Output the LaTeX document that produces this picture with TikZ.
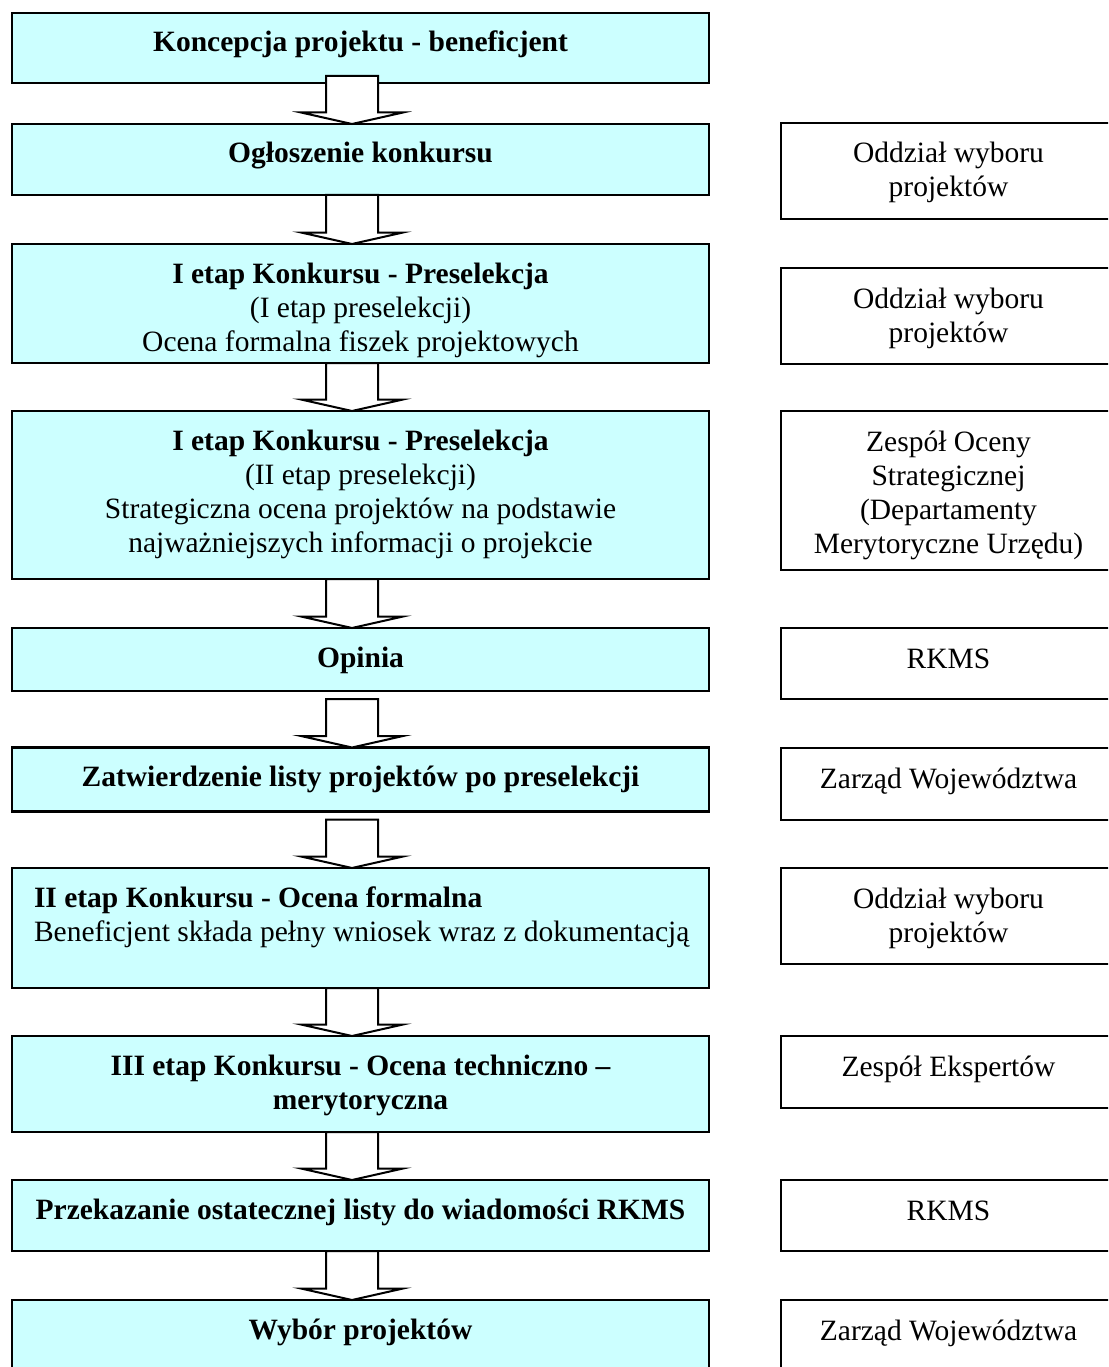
\documentclass[tikz,border=0pt]{standalone}
\usepackage{fontspec}
\setmainfont{Liberation Serif}
\usetikzlibrary{calc}
\definecolor{boxcyan}{RGB}{204,255,255}
\tikzset{
  lbox/.style={rectangle, draw=black, line width=2.2pt, fill=boxcyan, minimum width=697pt, inner sep=0pt, outer sep=0pt},
  rbox/.style={rectangle, draw=black, line width=2.2pt, fill=white, minimum width=335pt, inner sep=0pt, outer sep=0pt},
  txt/.style={anchor=base, inner sep=0pt, outer sep=0pt, font=\fontsize{29.5}{34}\selectfont},
  txtl/.style={anchor=base west, inner sep=0pt, outer sep=0pt, font=\fontsize{29.5}{34}\selectfont},
  barrow/.style={draw=black, line width=2pt, fill=white, line join=miter},
}
\newcommand\ctext[2]{\parbox[t]{#1}{\centering #2}}
\newcommand\ltext[2]{\parbox[t]{#1}{\raggedright #2}}
\newcommand\flowarrow[3]{%
  \coordinate (as) at ($(#1.south -| ax)+(0,#3)$);
  \coordinate (at) at (#2.north -| ax);
  \coordinate (aw) at ($(at)+(0,-11.5)$);
  \draw[barrow] ($(as)+(-26,0)$) -- ($(as)+(26,0)$) -- ($(aw)+(26,0)$) -- ($(aw)+(51,0)$)
     -- (at) -- ($(aw)+(-51,0)$) -- ($(aw)+(-26,0)$) -- cycle;
}
\begin{document}
\begin{tikzpicture}[x=1pt,y=-1pt]
\useasboundingbox (0,0) rectangle (1108,1367);
\clip (0,0) rectangle (1108,1367);
\fill[white] (0,0) rectangle (1108,1367);
\coordinate (ax) at (352,0);

% left column boxes
\node[lbox, minimum height=70pt]  (b1)  at (360.5,48) {};
\node[lbox, minimum height=71pt]  (b2)  at (360.5,159.5) {};
\node[lbox, minimum height=119pt] (b3)  at (360.5,303.5) {};
\node[lbox, minimum height=168pt] (b4)  at (360.5,495) {};
\node[lbox, minimum height=63pt]  (b5)  at (360.5,659.5) {};
\node[lbox, minimum height=64pt]  (b6)  at (360.5,779.5) {};
\node[lbox, minimum height=120pt] (b7)  at (360.5,928) {};
\node[lbox, minimum height=96pt]  (b8)  at (360.5,1084) {};
\node[lbox, minimum height=71pt]  (b9)  at (360.5,1215.5) {};
\node[lbox, minimum height=80pt]  (b10) at (360.5,1340) {};

% right column boxes
\node[rbox, minimum height=96pt]  (r2)  at (948.5,171) {};
\node[rbox, minimum height=96pt]  (r3)  at (948.5,316) {};
\node[rbox, minimum height=159pt] (r4)  at (948.5,490.5) {};
\node[rbox, minimum height=71pt]  (r5)  at (948.5,663.5) {};
\node[rbox, minimum height=72pt]  (r6)  at (948.5,784) {};
\node[rbox, minimum height=96pt]  (r7)  at (948.5,916) {};
\node[rbox, minimum height=72pt]  (r8)  at (948.5,1072) {};
\node[rbox, minimum height=71pt]  (r9)  at (948.5,1215.5) {};
\node[rbox, minimum height=80pt]  (r10) at (948.5,1340) {};

% arrows
\flowarrow{b1}{b2}{-7}
\flowarrow{b2}{b3}{0}
\flowarrow{b3}{b4}{0}
\flowarrow{b4}{b5}{0}
\flowarrow{b5}{b6}{8}
\flowarrow{b6}{b7}{8}
\flowarrow{b7}{b8}{0}
\flowarrow{b8}{b9}{0}
\flowarrow{b9}{b10}{0}

% left texts
\node[txt] (t1) at ($(b1.north)+(0,39)$) {\ctext{680pt}{\bfseries Koncepcja projektu - beneficjent}};
\node[txt] (t2) at ($(b2.north)+(0,39)$) {\ctext{680pt}{\bfseries Ogłoszenie konkursu}};
\node[txt] (t3) at ($(b3.north)+(0,39)$) {\ctext{680pt}{{\bfseries I etap Konkursu - Preselekcja}\\(I etap preselekcji)\\Ocena formalna fiszek projektowych}};
\node[txt] (t4) at ($(b4.north)+(0,39)$) {\ctext{680pt}{{\bfseries I etap Konkursu - Preselekcja}\\(II etap preselekcji)\\Strategiczna ocena projektów na podstawie\\najważniejszych informacji o projekcie}};
\node[txt] (t5) at ($(b5.north)+(0,39)$) {\ctext{680pt}{\bfseries Opinia}};
\node[txt] (t6) at ($(b6.north)+(0,39)$) {\ctext{680pt}{\bfseries Zatwierdzenie listy projektów po preselekcji}};
\node[txtl] (t7) at ($(b7.north west)+(22,39)$) {\ltext{680pt}{{\bfseries II etap Konkursu - Ocena formalna}\\Beneficjent składa pełny wniosek wraz z dokumentacją}};
\node[txt] (t8) at ($(b8.north)+(0,39)$) {\ctext{680pt}{\bfseries III etap Konkursu - Ocena techniczno –\\merytoryczna}};
\node[txt] (t9) at ($(b9.north)+(0,39)$) {\ctext{680pt}{\bfseries Przekazanie ostatecznej listy do wiadomości RKMS}};
\node[txt] (t10) at ($(b10.north)+(0,39)$) {\ctext{680pt}{\bfseries Wybór projektów}};

% right texts
\node[txt] (s2) at ($(r2.north)+(0,40)$) {\ctext{330pt}{Oddział wyboru\\projektów}};
\node[txt] (s3) at ($(r3.north)+(0,40)$) {\ctext{330pt}{Oddział wyboru\\projektów}};
\node[txt] (s4) at ($(r4.north)+(0,40)$) {\ctext{330pt}{Zespół Oceny\\Strategicznej\\(Departamenty\\Merytoryczne Urzędu)}};
\node[txt] (s5) at ($(r5.north)+(0,40)$) {\ctext{330pt}{RKMS}};
\node[txt] (s6) at ($(r6.north)+(0,40)$) {\ctext{330pt}{Zarząd Województwa}};
\node[txt] (s7) at ($(r7.north)+(0,40)$) {\ctext{330pt}{Oddział wyboru\\projektów}};
\node[txt] (s8) at ($(r8.north)+(0,40)$) {\ctext{330pt}{Zespół Ekspertów}};
\node[txt] (s9) at ($(r9.north)+(0,40)$) {\ctext{330pt}{RKMS}};
\node[txt] (s10) at ($(r10.north)+(0,40)$) {\ctext{330pt}{Zarząd Województwa}};
\end{tikzpicture}
\end{document}
